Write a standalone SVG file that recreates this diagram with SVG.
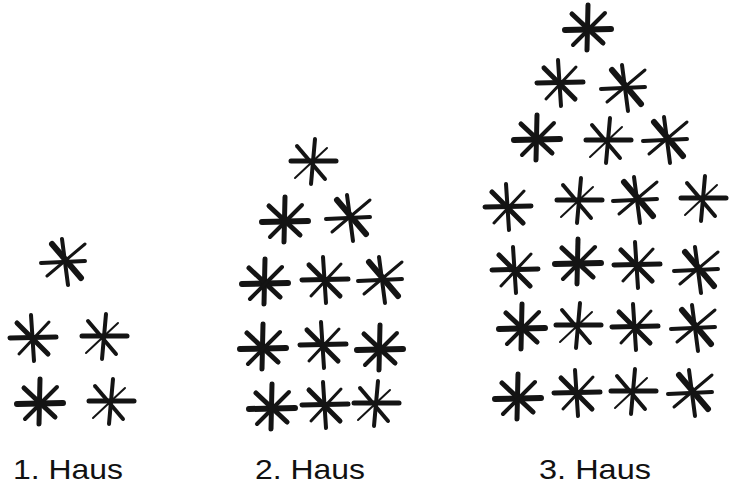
<svg xmlns="http://www.w3.org/2000/svg" xmlns:xlink="http://www.w3.org/1999/xlink" width="731" height="486" viewBox="0 0 731 486">
<style>
.k{fill:none;stroke:#141414;stroke-linecap:round}
.w6{stroke-width:6}.w5{stroke-width:5}.w4{stroke-width:4}.w3{stroke-width:3}.w2{stroke-width:2}
.lbl{font-family:"Liberation Sans",Arial,sans-serif;font-size:28px;fill:#111}
</style>
<defs>
<g id="s1" class="k"><path class="w5" d="M-23,0 L23,-1"/><path class="w4" d="M-2,-23 L1,23"/><path class="w5" d="M-16,-15 L15,16"/><path class="w3" d="M-14,16 L16,-16"/></g>
<g id="s2" class="k"><path class="w5" d="M-21,-2 L24,-2"/><path class="w4" d="M3,-24 L-1,21"/><path class="w4" d="M-15,-17 L13,16"/><path class="w2" d="M-17,15 L15,-15"/></g>
<g id="s3" class="k"><path class="w4" d="M-24,1 L20,-1"/><path class="w4" d="M-3,-23 L3,23"/><path class="w6" d="M-13,-18 L16,16"/><path class="w3" d="M-18,14 L20,-18"/></g>
<g id="s4" class="k"><path class="w6" d="M-23,2 L23,1"/><path class="w5" d="M0,-23 L-1,22"/><path class="w5" d="M-16,-14 L15,15"/><path class="w4" d="M-15,17 L17,-15"/></g>
</defs>
<g id="house1">
<use href="#s3" x="65" y="262"/>
<use href="#s1" x="33" y="338"/>
<use href="#s2" x="103" y="338"/>
<use href="#s4" x="40" y="402"/>
<use href="#s2" x="110" y="403"/>
</g>
<g id="house2">
<use href="#s2" x="312" y="163"/>
<use href="#s4" x="285" y="220"/>
<use href="#s3" x="350" y="218"/>
<use href="#s4" x="265" y="282"/>
<use href="#s1" x="325" y="280"/>
<use href="#s3" x="382" y="280"/>
<use href="#s4" x="263" y="347"/>
<use href="#s1" x="323" y="345"/>
<use href="#s4" x="380" y="348"/>
<use href="#s4" x="272" y="407"/>
<use href="#s1" x="325" y="405"/>
<use href="#s2" x="375" y="405"/>
</g>
<g id="house3">
<use href="#s4" x="588" y="28"/>
<use href="#s1" x="560" y="83"/>
<use href="#s3" x="625" y="88"/>
<use href="#s4" x="537" y="138"/>
<use href="#s2" x="607" y="142"/>
<use href="#s3" x="667" y="140"/>
<use href="#s1" x="508" y="207"/>
<use href="#s2" x="578" y="202"/>
<use href="#s3" x="637" y="200"/>
<use href="#s2" x="702" y="200"/>
<use href="#s1" x="515" y="270"/>
<use href="#s4" x="578" y="262"/>
<use href="#s1" x="637" y="265"/>
<use href="#s3" x="698" y="270"/>
<use href="#s4" x="522" y="327"/>
<use href="#s2" x="577" y="327"/>
<use href="#s1" x="635" y="327"/>
<use href="#s3" x="695" y="328"/>
<use href="#s4" x="518" y="397"/>
<use href="#s1" x="577" y="393"/>
<use href="#s2" x="632" y="393"/>
<use href="#s3" x="692" y="393"/>
</g>
<g id="labels">
<text class="lbl" x="13" y="479" textLength="110" lengthAdjust="spacingAndGlyphs">1. Haus</text>
<text class="lbl" x="255" y="479" textLength="110" lengthAdjust="spacingAndGlyphs">2. Haus</text>
<text class="lbl" x="539" y="479" textLength="112" lengthAdjust="spacingAndGlyphs">3. Haus</text>
</g>
</svg>
